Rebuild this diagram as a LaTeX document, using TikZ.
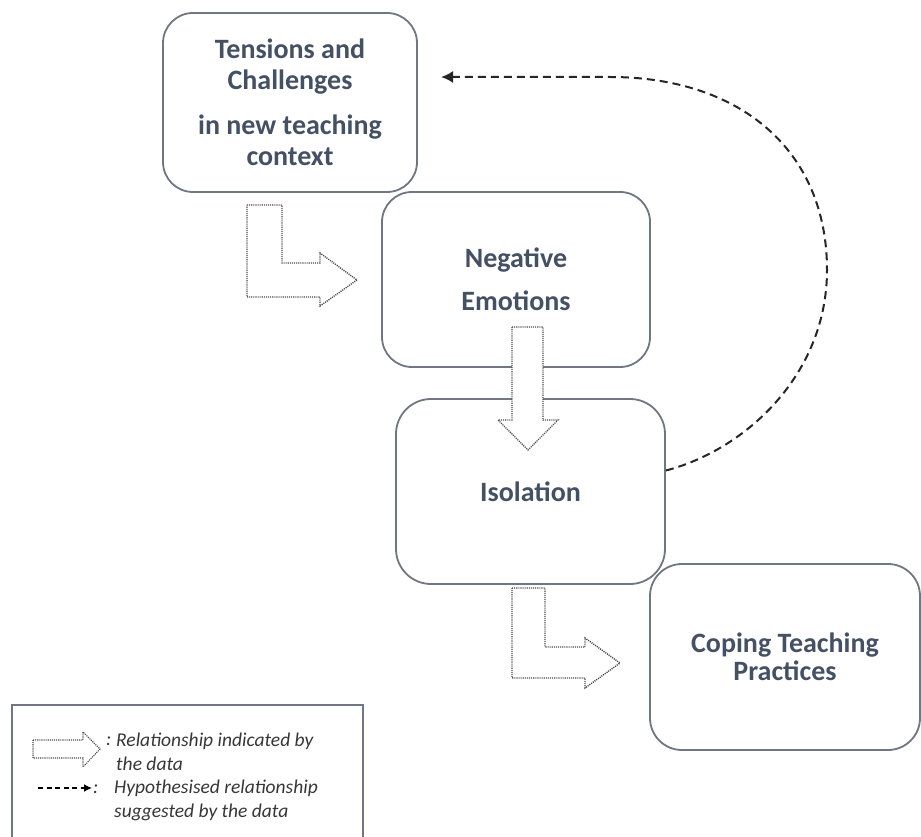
\documentclass[tikz,border=0pt]{standalone}
\usepackage{fontspec}
\setmainfont{Carlito}
\usepackage{xcolor}
\usetikzlibrary{arrows.meta}
\definecolor{boxline}{RGB}{112,119,130}
\definecolor{boxtext}{RGB}{68,80,100}
\definecolor{dotline}{RGB}{75,75,75}
\definecolor{legtext}{RGB}{55,55,55}

\tikzset{
  stage/.style = {draw=boxline, line width=1.8pt, rounded corners=30pt, fill=white,
                  align=center, text=boxtext, font=\bfseries\fontsize{28}{31}\selectfont},
  blockarrow/.style = {draw=dotline, fill=white, line width=1.4pt,
                       dash pattern=on 1.1pt off 1pt, line join=miter},
  hyp/.style = {draw=black!85, line width=2pt, dash pattern=on 8pt off 5pt,
                -{Latex[length=12pt,width=12pt]}},
  legend/.style = {text=legtext, font=\itshape\fontsize{19.5}{24}\selectfont, inner sep=0pt}
}

\begin{document}
\begin{tikzpicture}[x=1pt, y=-1pt]
  \useasboundingbox (0,0) rectangle (921,837);

  % stages
  \node[stage, minimum width=254, minimum height=179] (tension) at (290,102.5)
    {Tensions and\\Challenges\\[14pt]in new teaching\\context};
  \node[stage, minimum width=268, minimum height=175] (negemo) at (516,279.5)
    {Negative\\[12pt]Emotions};
  \node[stage, minimum width=269, minimum height=185, rounded corners=35pt] (iso) at (530.5,491.5)
    {Isolation};
  \node[stage, minimum width=270, minimum height=186, rounded corners=32pt] (coping) at (785,657)
    {Coping Teaching\\[-3pt]Practices};

  % data arrows
  \draw[blockarrow] (247,205) -- (282,205) -- (282,263) -- (320,263) -- (320,253)
    -- (357,280) -- (320,306) -- (320,297) -- (247,297) -- cycle;
  \draw[blockarrow] (512,327) -- (543,327) -- (543,420) -- (558,420) -- (528,450)
    -- (498,420) -- (512,420) -- cycle;
  \draw[blockarrow] (512,588) -- (545,588) -- (545,647) -- (585,647) -- (585,638)
    -- (620,663) -- (585,688) -- (585,678) -- (512,678) -- cycle;

  % hypothesised link
  \coordinate (hyptip) at (441,77);
  \draw[hyp] ([yshift=21pt]iso.east) .. controls (745,450) and (827,375) .. (827,270)
    .. controls (827,150) and (740,77) .. (610,77) -- (hyptip);

  % legend
  \draw[draw=boxline, line width=1.5pt] (12,705) rectangle (363,845);
  \draw[blockarrow, line width=1.1pt] (33,740) -- (83,740) -- (83,732) -- (100,749)
    -- (83,767) -- (83,758) -- (33,758) -- cycle;
  \node[legend, anchor=base west] (c1) at (106,745) {:};
  \node[legend, anchor=base west, align=left] (l1) at (116,770)
    {Relationship indicated by\\the data};
  \coordinate (ls) at (38,788);
  \coordinate (le) at (92,788);
  \draw[line width=1.5pt, dash pattern=on 5pt off 3.5pt, -{Latex[length=8pt,width=8pt]}] (ls) -- (le);
  \node[legend, anchor=base west] (c2) at (93,793) {:};
  \node[legend, anchor=base west, align=left] (l2) at (114,817)
    {Hypothesised relationship\\suggested by the data};
\end{tikzpicture}
\end{document}
